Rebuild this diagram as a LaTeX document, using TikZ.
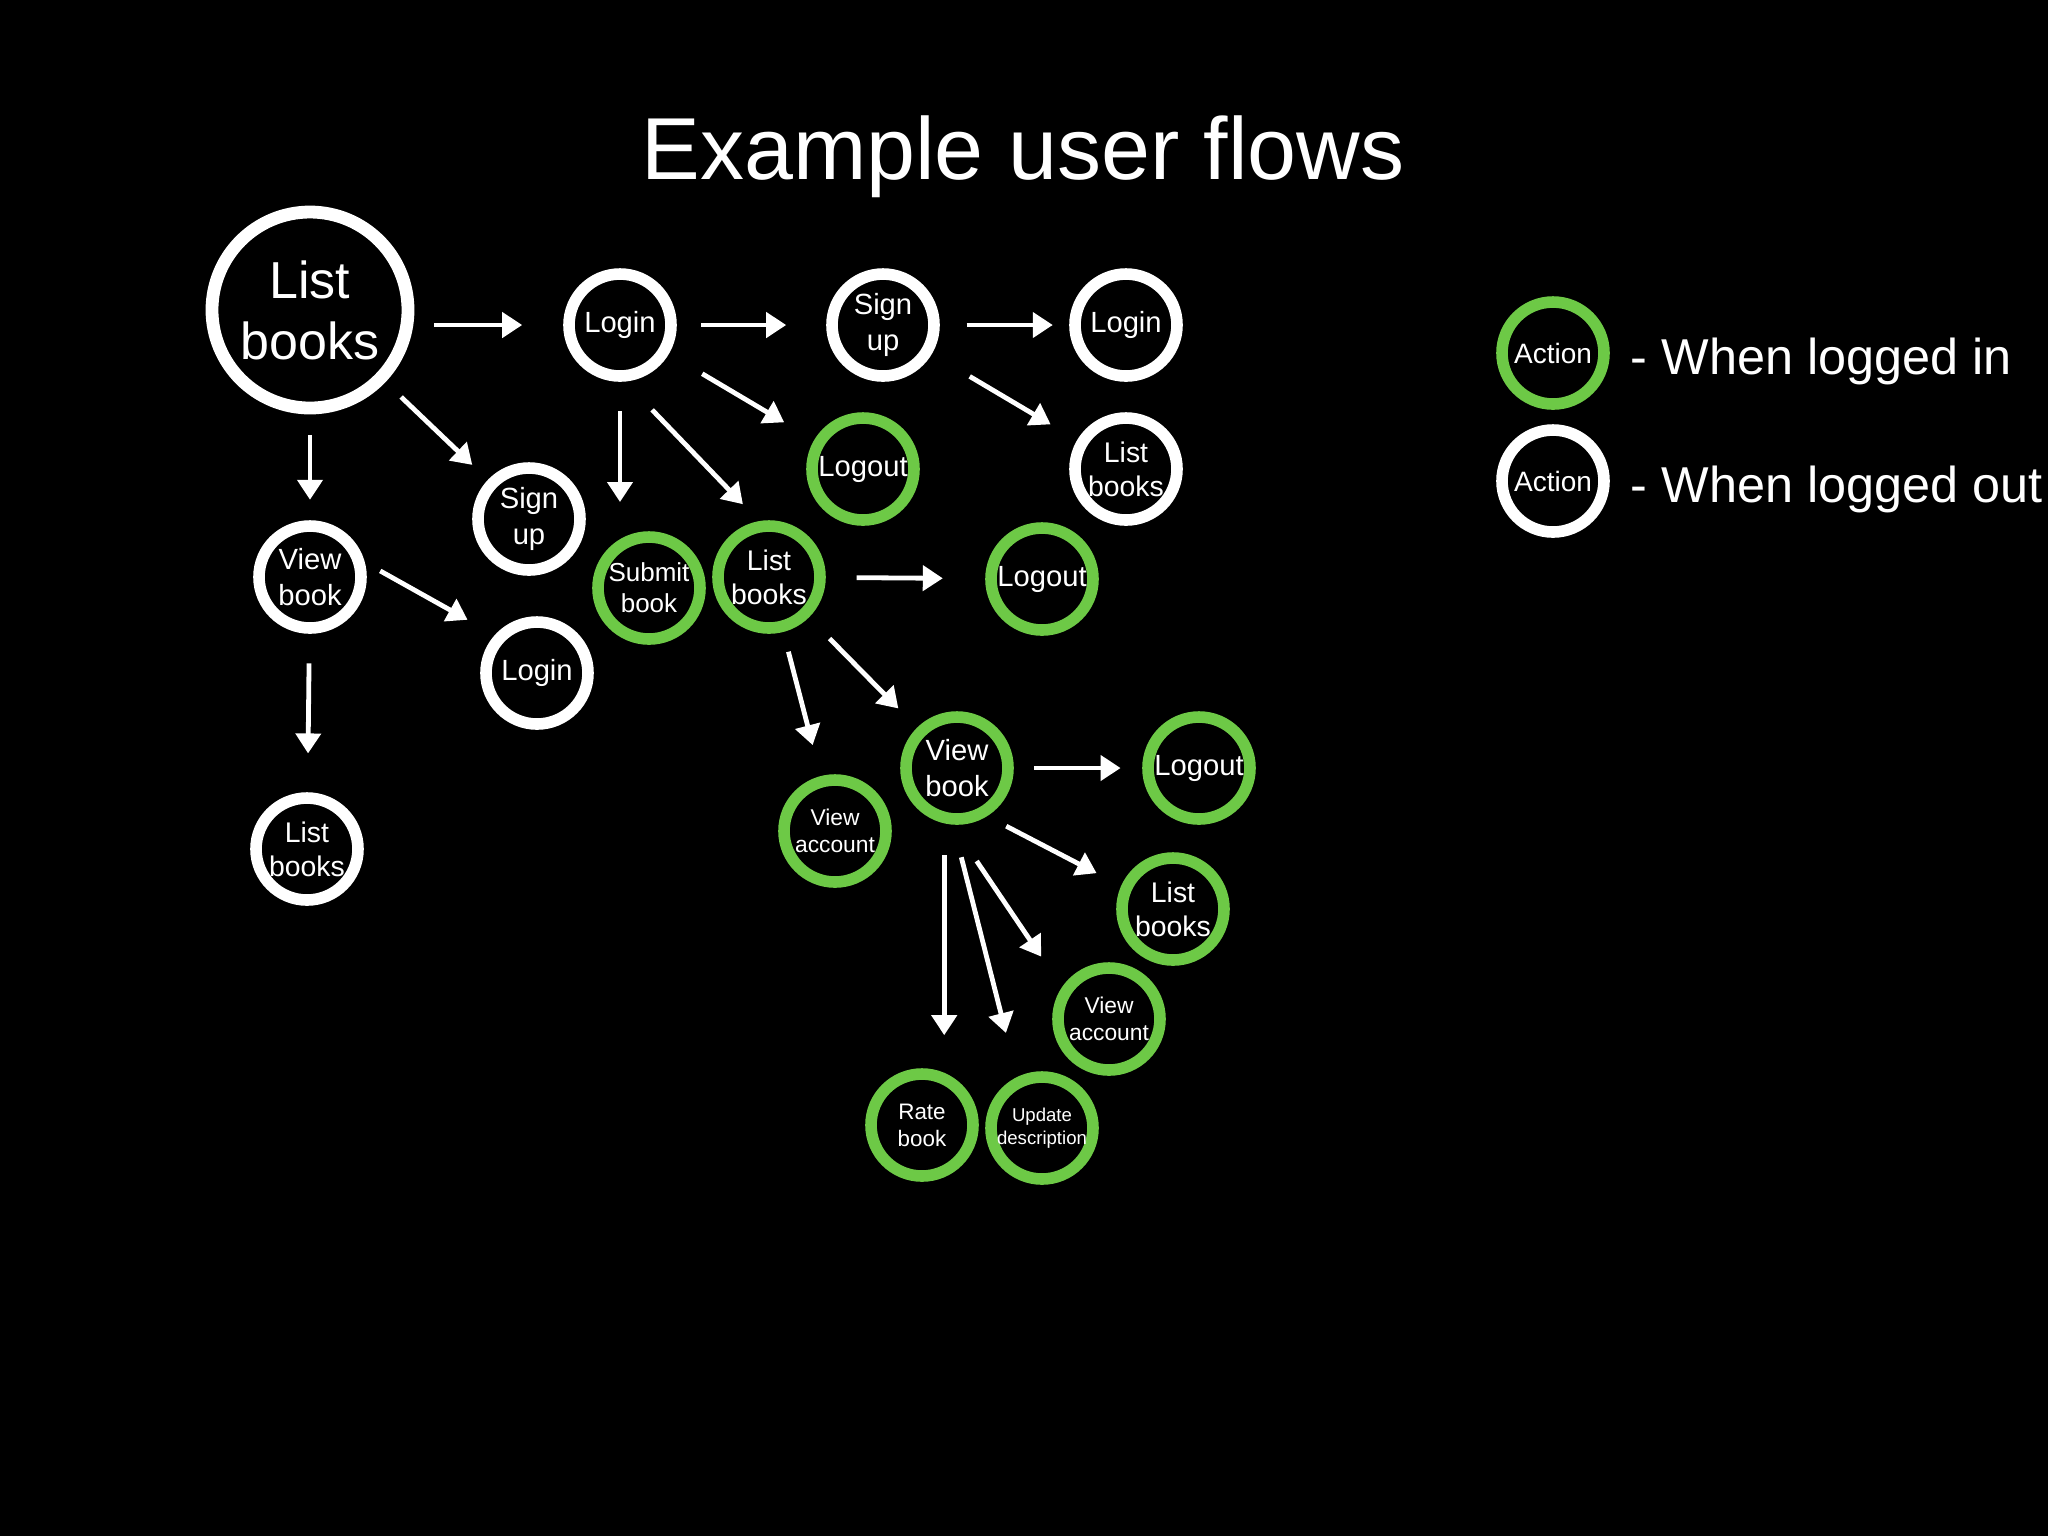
\documentclass[tikz,border=0pt]{standalone}
\usepackage{fontspec}
\setmainfont{Liberation Sans}
\usetikzlibrary{arrows.meta}
\definecolor{lgreen}{RGB}{109,201,70}

\begin{document}
\begin{tikzpicture}[x=0.25pt,y=-0.25pt,
			act/.style={circle, line width=2.9pt, minimum size=25.5pt, inner sep=0pt, align=center, text=white, font=\fontsize{7.3}{8.8}\selectfont},
			inact/.style={act, draw=lgreen},
			outact/.style={act, draw=white},
			small/.style={font=\fontsize{5.7}{6.9}\selectfont},
			keytext/.style={text=white, anchor=base west, inner sep=0pt, font=\fontsize{12.6}{15}\selectfont},
			flow/.style={draw=white, line width=1.2pt, -{Triangle[length=5pt,width=6.2pt]}},
			gaps/.style 2 args={shorten <=#1pt, shorten >=#2pt}]

		\useasboundingbox (0,0) rectangle (2048,1536);
		\fill[black] (0,0) rectangle (2048,1536);

		\node[text=white, anchor=base, inner sep=0pt, font=\fontsize{22}{26}\selectfont] (title) at (1023,179) {Example user flows};

		% logged out
		\node[outact, minimum size=49pt, line width=3.2pt, font=\fontsize{13}{15.2}\selectfont] (list0) at (310,310) {List\\books};
		\node[outact] (login1) at (620,325) {Login};
		\node[outact] (signup1) at (883,325) {Sign\\up};
		\node[outact] (login2) at (1126,325) {Login};
		\node[outact, font=\fontsize{7.1}{8.5}\selectfont] (list2) at (1126,469) {List\\books};
		\node[outact] (signup2) at (529,519) {Sign\\up};
		\node[outact] (view1) at (310,577) {View\\book};
		\node[outact] (login3) at (537,673) {Login};
		\node[outact, font=\fontsize{7.1}{8.5}\selectfont] (list3) at (307,849) {List\\books};

		% logged in
		\node[inact] (logout1) at (863,469) {Logout};
		\node[inact, font=\fontsize{6.5}{7.8}\selectfont] (submit) at (649,588) {Submit\\book};
		\node[inact, font=\fontsize{7.1}{8.5}\selectfont] (list4) at (769,577) {List\\books};
		\node[inact] (logout2) at (1042,579) {Logout};
		\node[inact] (view2) at (957,768) {View\\book};
		\node[inact] (logout3) at (1199,768) {Logout};
		\node[inact, small] (account1) at (835,831) {View\\account};
		\node[inact, font=\fontsize{7.1}{8.5}\selectfont] (list5) at (1173,909) {List\\books};
		\node[inact, small] (account2) at (1109,1019) {View\\account};
		\node[inact, font=\fontsize{5.6}{6.7}\selectfont] (rate) at (922,1125) {Rate\\book};
		\node[inact, font=\fontsize{4.65}{5.6}\selectfont] (update) at (1042,1128) {Update\\description};

		\draw[flow, gaps={5}{10.25}] (list0.east |- login1) -- (login1);
		\draw[flow, gaps={6.1}{10.0}] (login1) -- (signup1);
		\draw[flow, gaps={6.7}{4.1}] (signup1) -- (login2);
		\draw[flow, gaps={9.7}{8.7}] (login1) -- (logout1);
		\draw[flow, gaps={11.0}{7.7}] (signup1) -- (list2);
		\draw[flow, gaps={5.4}{5.4}] (list0) -- (signup2);
		\draw[flow, gaps={5.1}{5.1}] (list0) -- (view1);
		\draw[flow, gaps={7.3}{7.3}] (login1) -- (login1 |- submit.north);
		\draw[flow, gaps={9.8}{5.85}] (login1.-85) -- (list4.100);
		\draw[flow, gaps={7.7}{10.6}] (list4) -- (logout2);
		\draw[flow, gaps={4.4}{7.8}] (view1.15) -- (login3.138);
		\draw[flow, gaps={7.4}{9.7}] (view1) -- (list3);
		\draw[flow, gaps={5.1}{8.0}] (list4) -- (account1);
		\draw[flow, gaps={7.4}{6.7}] (list4) -- (view2);
		\draw[flow, gaps={5.1}{5.4}] (view2) -- (logout3);
		\draw[flow, gaps={5.4}{6.9}] (view2.-58) -- (list5.156);
		\draw[flow, gaps={11}{9.25}] (view2.-95) -- (account2.146);
		\draw[flow, gaps={8.4}{11.35}] (view2.-94) -- (update.116);
		\draw[flow, gaps={8}{8.25}] (view2.-103) -- (view2.-103 |- rate.north);

		% key
		\node[inact, font=\fontsize{7}{8.4}\selectfont] (keyin) at (1553,353) {Action};
		\node[outact, font=\fontsize{7}{8.4}\selectfont] (keyout) at (1553,481) {Action};
		\node[keytext] (keyintext) at (1630,374) {- When logged in};
		\node[keytext] (keyouttext) at (1630,502) {- When logged out};
	\end{tikzpicture}
\end{document}
